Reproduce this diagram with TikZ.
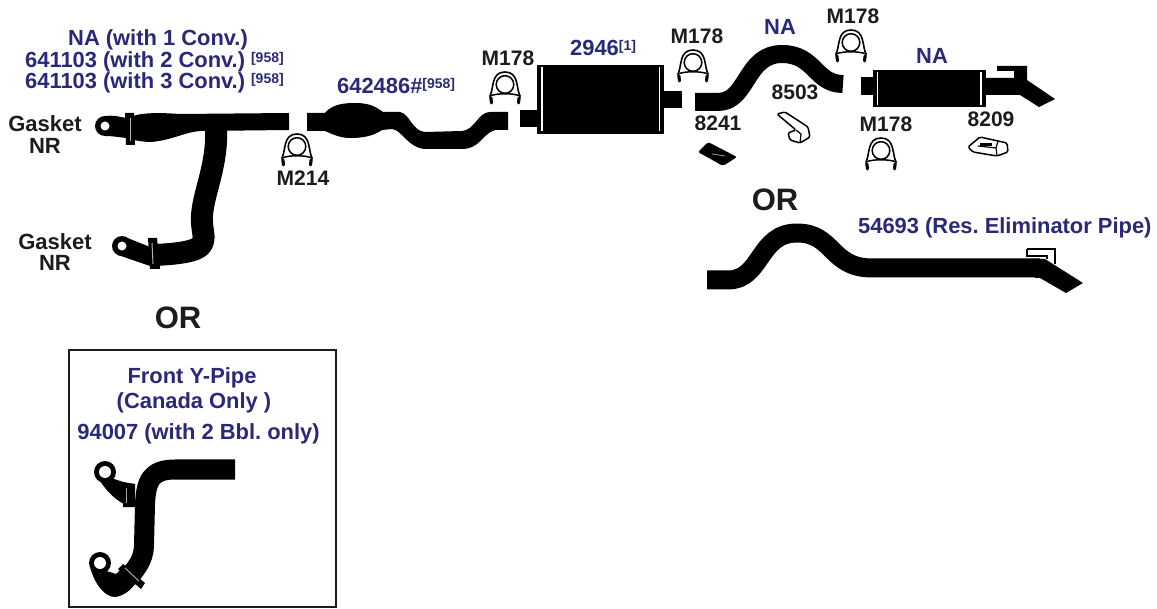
\documentclass[tikz,border=0pt]{standalone}
\usepackage{fontspec}
\setmainfont{Liberation Sans}[BoldFont={Liberation Sans Bold}]
\definecolor{partblue}{HTML}{2A2878}
\definecolor{ink}{HTML}{1C1C1C}
\newcommand{\supr}[1]{\raisebox{5pt}{\fontsize{14}{14}\selectfont #1}}
\frenchspacing
\tikzset{
  x=1pt,y=-1pt,
  lbl/.style={font=\bfseries\fontsize{21}{22}\selectfont,text=ink,inner sep=0pt,anchor=base},
  gasketlbl/.style={lbl,font=\bfseries\fontsize{22}{23}\selectfont},
  blue/.style={font=\bfseries\fontsize{21.9}{22}\selectfont,text=partblue,inner sep=0pt,anchor=base},
  orlbl/.style={font=\bfseries\fontsize{31}{32}\selectfont,text=ink,inner sep=0pt,anchor=base},
  pipe/.style={draw=black,line width=19pt,line join=round},
  solid part/.style={fill=black,draw=black,line width=.6pt,line join=round},
  stripe/.style={draw=white,line width=1.6pt},
  thin part/.style={draw=black,line width=1.5pt,fill=white,line join=round},
  clamp/.pic={
    \draw[black,line width=1.6pt,line join=round] (-14,31) -- (-15,24) .. controls (-11,16) and (-14,0) .. (0,0) .. controls (14,0) and (11,16) .. (15,24) -- (14,31);
    \draw[black,line width=1.5pt] (0,12.5) circle[radius=8.8];
    \draw[black,line width=1.5pt] (-15,24) .. controls (-8,21) and (8,21) .. (15,24);
    \draw[black,line width=3pt,line cap=round] (-14,26) -- (-13.5,31) (14,26) -- (13.5,31);
  }
}
\begin{document}
\begin{tikzpicture}
\useasboundingbox[fill=white] (0,0) rectangle (1157,609);

% front Y pipe
\draw[pipe,line width=22pt,line cap=butt] (216,126) .. controls (218,165) and (204,190) .. (202,215) .. controls (201,230) and (206,236) .. (202,244) .. controls (198,252) and (175,254) .. (155,255);
\fill[black] (133,116) .. controls (145,112) and (165,113) .. (180,114) -- (289,113) -- (289,130) -- (200,131) .. controls (185,132) and (170,141) .. (150,142) .. controls (145,142) and (140,141) .. (133,140) -- cycle;
\fill[black] (105,116) .. controls (115,115) and (120,117) .. (126,118) -- (126,138) .. controls (118,137) and (112,136) .. (105,136) -- cycle;
\fill[black] (125,113) -- (134,113) -- (135,145) -- (126,145) -- cycle;
\draw[white!70!black,line width=1pt] (130,118) -- (130,141);
\fill[black] (105,126) circle[radius=10];
\fill[white] (105,126) circle[radius=4.5];
\fill[black] (125,237) -- (150,247) -- (150,266) -- (118,255) -- cycle;
\fill[black] (148,238) -- (157,238) -- (160,269) -- (150,269) -- cycle;
\draw[white!70!black,line width=1pt] (152,243) -- (153,264);
\fill[black] (122,246) circle[radius=10];
\fill[white] (122,246) circle[radius=4.5];

% converter pipe
\fill[black] (307,113) -- (325,113) .. controls (332,104) and (345,103) .. (355,103) .. controls (370,103) and (376,107) .. (383,112) -- (400,112) .. controls (410,114) and (412,131) .. (425,132) -- (462,131) .. controls (475,130) and (478,112) .. (490,112) -- (508,112) -- (508,130) -- (495,130) .. controls (482,134) and (480,149) .. (462,149) -- (425,149) .. controls (408,148) and (402,130) .. (392,129) -- (382,130) .. controls (372,137) and (360,138) .. (350,138) .. controls (340,138) and (332,134) .. (325,131) -- (307,131) -- cycle;

% main muffler
\fill[black] (520,110) rectangle (540,127);
\fill[black] (660,91) rectangle (682,108);
\draw[solid part] (537.5,65.5) rectangle (663.5,133);
\draw[stripe] (542,67) -- (542,131.5);
\draw[stripe] (659.5,67) -- (659.5,131.5);

% NA pipe
\draw[pipe,line width=18pt,line cap=butt] (695,102) -- (718,102) .. controls (748,102) and (745,54) .. (782,54) .. controls (815,54) and (815,84) .. (843,84);

% NA tail muffler
\fill[black] (861,77) rectangle (875,95);
\draw[solid part] (873,70) rectangle (985,106.5);
\draw[stripe] (877.5,72) -- (877.5,105);
\draw[stripe] (981,72) -- (981,105);
\fill[black] (985,78) -- (1024,78) -- (1027,80) -- (1055,99) -- (1039,107) -- (1020,95) -- (985,95) -- cycle;
\fill[black] (997,66) -- (1027,66) -- (1027,80) -- (1014,78) -- (1014,71) -- (997,71) -- cycle;

% resonator eliminator pipe
\draw[pipe,line cap=butt] (707,280) -- (728,280) .. controls (762,280) and (758,233) .. (797,233) .. controls (834,233) and (830,268) .. (872,268) -- (1040,268);
\fill[black] (1035,259) -- (1045,259) -- (1083,283) -- (1066,293) -- (1040,278) -- (1035,278) -- cycle;
\draw[black,line width=1.5pt] (1027,249) -- (1055,249) -- (1055,264);
\draw[black,line width=1.5pt] (1027,249) -- (1027,256) -- (1047,256) -- (1047,259);

% small parts
\fill[black,rounded corners=2pt] (698,152) -- (708,142) -- (737,157) -- (723,166) -- cycle;
\draw[white!60!black,line width=.8pt] (712,154) -- (725,156);
\draw[thin part,rounded corners=1.5pt] (777,114) -- (785,112) -- (808,127) -- (810,137) -- (800,143) -- (790,140) -- (788,133) -- (796,130) -- cycle;
\draw[black,line width=1.2pt] (796,130) -- (801,134) -- (800,143);
\draw[thin part,rounded corners=1.5pt] (968,147) -- (980,137) -- (1007,143) -- (1008,152) -- (997,156) -- (973,152) -- cycle;
\draw[black,line width=1.2pt] (978,146) -- (996,148) -- (997,156) (996,148) -- (998,141);
\fill[black] (980,143) rectangle (992,146);

% clamps
\pic at (297,134) {clamp};
\pic at (505,72) {clamp};
\pic at (693,50) {clamp};
\pic at (851,30) {clamp};
\pic at (881,138) {clamp};

% inset box
\draw[ink,line width=2pt] (68.5,350) rectangle (336,606.5);
\draw[pipe,line width=20pt,line cap=butt] (235,469.5) -- (175,469.5) .. controls (150,469.5) and (146,482) .. (145,505) -- (144,545) .. controls (144,560) and (135,570) .. (128,578);
\fill[black] (105,476) -- (126,483) -- (126,505) .. controls (115,500) and (105,490) .. (97,476) -- cycle;
\fill[black] (123,482) -- (135,484) -- (135,507) -- (123,507) -- cycle;
\draw[white!65!black,line width=1pt] (126,488) -- (126,503);
\fill[black] (105,472) circle[radius=11];
\fill[white] (105,472) circle[radius=6];
\fill[black] (90,567) .. controls (95,585) and (105,597) .. (115,597) .. controls (125,596) and (135,587) .. (138,578) -- (125,565) -- (116,574) -- (110,572) -- cycle;
\fill[black] (123,564) -- (145,583) -- (141,589) -- (118,569) -- cycle;
\draw[white!65!black,line width=1pt] (125,568) -- (139,581);
\fill[black] (100,563) circle[radius=11];
\fill[white] (100,563) circle[radius=6];

% labels
\node[blue,anchor=base west] (n1) at (68,46) {NA (with 1 Conv.)};
\node[blue,anchor=base west] (n2) at (25,68) {641103 (with 2 Conv.)\hspace{6pt}\supr{[958]}};
\node[blue,anchor=base west] (n3) at (25,89) {641103 (with 3 Conv.)\hspace{6pt}\supr{[958]}};
\node[blue,anchor=base west] (n4) at (337,94) {642486\#\supr{[958]}};
\node[gasketlbl] (g1) at (45,132) {Gasket};
\node[gasketlbl] (g1b) at (45,154) {NR};
\node[gasketlbl] (g2) at (55,250) {Gasket};
\node[gasketlbl] (g2b) at (55,271) {NR};
\node[lbl] (c0) at (303,186) {M214};
\node[lbl] (c1) at (508,66) {M178};
\node[lbl] (c2) at (697,44) {M178};
\node[lbl] (c3) at (853,24) {M178};
\node[lbl] (c4) at (886,132) {M178};
\node[blue,anchor=base west] (m1) at (570,56) {2946\supr{[1]}};
\node[blue] (na1) at (780,35) {NA};
\node[blue] (na2) at (932,64) {NA};
\node[lbl] (p1) at (795,100) {8503};
\node[lbl] (p2) at (718,131) {8241};
\node[lbl] (p3) at (991,127) {8209};
\node[orlbl] (or1) at (775,211) {OR};
\node[orlbl] (or2) at (178,329) {OR};
\node[blue,anchor=base west] (res) at (858,234) {54693 (Res. Eliminator Pipe)};
\node[blue] (b1) at (192,384) {Front Y-Pipe};
\node[blue] (b2) at (194,409) {(Canada Only )};
\node[blue] (b3) at (198.5,439) {94007 (with 2 Bbl. only)};
\end{tikzpicture}
\end{document}
